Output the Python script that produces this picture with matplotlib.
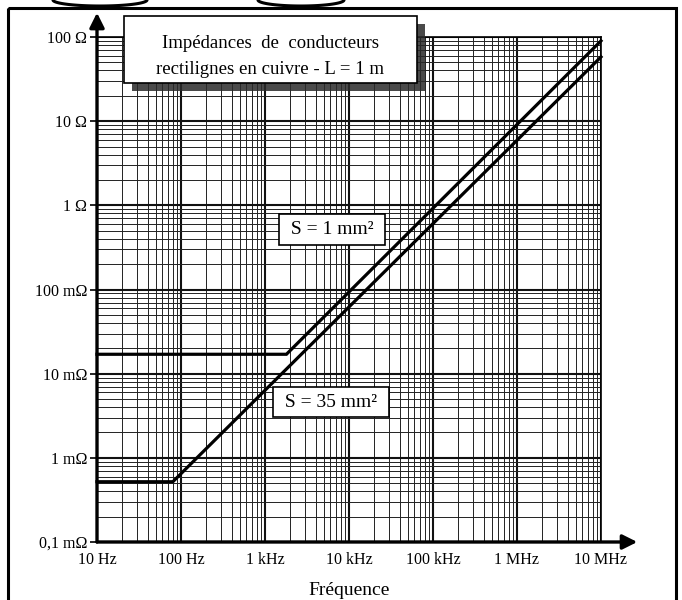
import numpy as np
import matplotlib.pyplot as plt
from matplotlib.patches import Rectangle
from matplotlib.ticker import LogLocator, NullFormatter

plt.rcParams['font.family'] = ['Liberation Serif', 'DejaVu Serif']

# impedance curves (Hz, ohm)
freq_1mm2 = [10, 1800, 1e7]
z_1mm2 = [0.017, 0.017, 90]
freq_35mm2 = [10, 80, 1e7]
z_35mm2 = [0.00052, 0.00052, 58]

x_ticks = [10, 100, 1e3, 1e4, 1e5, 1e6, 1e7]
x_labels = ["10 Hz", "100 Hz", "1 kHz", "10 kHz", "100 kHz", "1 MHz", "10 MHz"]
y_ticks = [1e-4, 1e-3, 1e-2, 1e-1, 1, 10, 100]
y_labels = ["0,1 mΩ", "1 mΩ", "10 mΩ", "100 mΩ", "1 Ω", "10 Ω", "100 Ω"]

W, H = 682, 600
fig = plt.figure(figsize=(W / 100, H / 100), dpi=100)
ax = fig.add_axes([97 / W, 1 - 542 / H, 504 / W, 505 / H])

ax.set_xscale('log')
ax.set_yscale('log')
ax.set_xlim(10, 1e7)
ax.set_ylim(1e-4, 100)

ax.xaxis.set_minor_locator(LogLocator(base=10, subs=np.arange(2, 10), numticks=50))
ax.yaxis.set_minor_locator(LogLocator(base=10, subs=np.arange(2, 10), numticks=50))
ax.xaxis.set_minor_formatter(NullFormatter())
ax.yaxis.set_minor_formatter(NullFormatter())
ax.set_xticks(x_ticks)
ax.set_xticklabels(x_labels, fontsize=11.5)
ax.set_yticks(y_ticks)
ax.set_yticklabels(y_labels, fontsize=11.5)
ax.tick_params(axis='x', which='both', length=0, pad=7)
ax.tick_params(axis='y', which='major', length=5, width=1.2, pad=2)
ax.tick_params(axis='y', which='minor', length=0)

ax.grid(which='major', color='#111111', lw=1.5)
ax.grid(which='minor', color='#222222', lw=0.7)
ax.set_axisbelow(True)

for s in ['top', 'right']:
    ax.spines[s].set_linewidth(1.2)
for s in ['left', 'bottom']:
    ax.spines[s].set_visible(False)

ax.plot(freq_1mm2, z_1mm2, color='black', lw=2.3, solid_joinstyle='miter', zorder=4, clip_on=False)
ax.plot(freq_35mm2, z_35mm2, color='black', lw=2.3, solid_joinstyle='miter', zorder=4, clip_on=False)

# axis arrows
ax.annotate('', xy=(0, 1.048), xytext=(0, 0), xycoords='axes fraction',
            arrowprops=dict(arrowstyle='-|>', lw=2.4, color='black', mutation_scale=22,
                            shrinkA=0, shrinkB=0), zorder=6)
ax.annotate('', xy=(1.072, 0), xytext=(0, 0), xycoords='axes fraction',
            arrowprops=dict(arrowstyle='-|>', lw=2.4, color='black', mutation_scale=22,
                            shrinkA=0, shrinkB=0), zorder=6)

ax.text(6300, 0.52, " S = 1 mm² ", fontsize=14, ha='center', va='center', zorder=5,
        bbox=dict(boxstyle='square,pad=0.35', fc='white', ec='black', lw=1.2))
ax.text(6100, 0.0046, " S = 35 mm² ", fontsize=14, ha='center', va='center', zorder=5,
        bbox=dict(boxstyle='square,pad=0.35', fc='white', ec='black', lw=1.2))

ax.set_xlabel("Fréquence", fontsize=14, labelpad=10)

# overlay in pixel coordinates for the frame and the title box
ov = fig.add_axes([0, 0, 1, 1], zorder=10)
ov.set_xlim(0, W)
ov.set_ylim(H, 0)
ov.axis('off')
ov.patch.set_alpha(0)

ov.add_patch(Rectangle((8, 8), 668, 620, fill=False, ec='black', lw=2.2, clip_on=False))
t = np.linspace(0, np.pi, 60)
ov.plot(100 + 47 * np.cos(t), 6 * np.sin(t), color='black', lw=2.2)
ov.plot(301 + 43 * np.cos(t), 6 * np.sin(t), color='black', lw=2.2)

ov.add_patch(Rectangle((132, 24), 293, 67, fc='#2a2a2a', ec='none', alpha=0.85))
ov.add_patch(Rectangle((124, 16), 293, 67, fc='white', ec='black', lw=1.2))
ov.text(270.5, 44, "Impédances  de  conducteurs", fontsize=13.5, ha='center', va='center')
ov.text(270.5, 69, "rectilignes en cuivre - L = 1 m", fontsize=13.5, ha='center', va='center')

fig.savefig("out.png", dpi=100)
